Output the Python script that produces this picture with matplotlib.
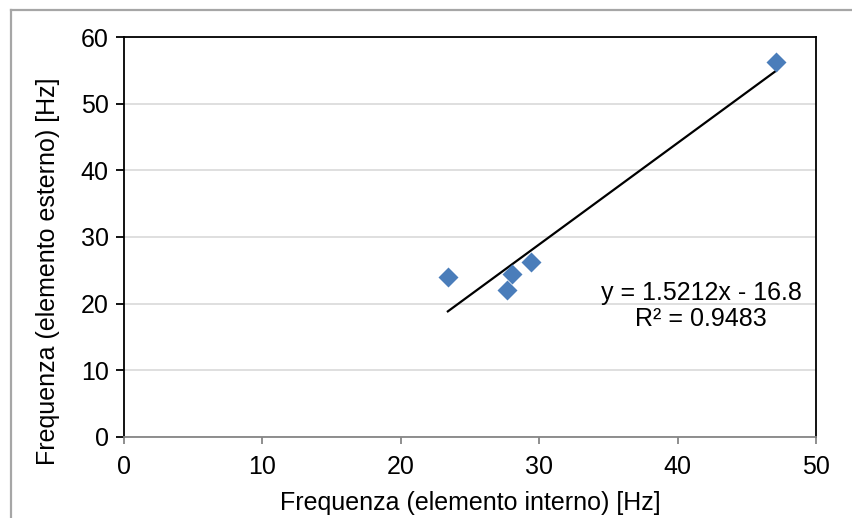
import numpy as np
import matplotlib.pyplot as plt
from matplotlib.lines import Line2D

plt.rcParams['font.family'] = ['Liberation Sans', 'DejaVu Sans']

# dati
f_interno = [23.4, 27.65, 28.05, 29.4, 47.1]
f_esterno = [23.95, 22.05, 24.5, 26.2, 56.25]
eq_text = "y = 1.5212x - 16.8\nR² = 0.9483"
x_ticks = [0, 10, 20, 30, 40, 50]
y_ticks = [0, 10, 20, 30, 40, 50, 60]

fig = plt.figure(figsize=(8.53, 5.18), dpi=100)
ax = fig.add_axes([0.1454, 0.157, 0.8112, 0.771])

# cornice grigia esterna (solo sinistra e sopra visibili)
fig.add_artist(Line2D([11/853, 11/853], [0, 1 - 10/518], transform=fig.transFigure,
                      color='#a6a6a6', lw=1.6))
fig.add_artist(Line2D([11/853, 1], [1 - 10/518, 1 - 10/518], transform=fig.transFigure,
                      color='#a6a6a6', lw=1.6))

# retta di regressione
coef = np.polyfit(f_interno, f_esterno, 1)
xl = np.array([min(f_interno), max(f_interno)])
ax.plot(xl, np.polyval(coef, xl), color='black', lw=1.6, zorder=3)

ax.plot(f_interno, f_esterno, 'D', color='#4a7dba', ms=10, mec='none', zorder=4)

ax.set_xlim(0, 50)
ax.set_ylim(0, 60)
ax.set_xticks(x_ticks)
ax.set_yticks(y_ticks)
ax.yaxis.grid(True, color='#d9d9d9', lw=1.2)
ax.set_axisbelow(True)

for s in ['left', 'top', 'right']:
    ax.spines[s].set_color('black')
    ax.spines[s].set_linewidth(1.3)
ax.spines['bottom'].set_color('#868686')
ax.spines['bottom'].set_linewidth(1.3)

ax.tick_params(axis='y', direction='out', length=6, width=1.3, color='black',
               labelsize=18, pad=5)
ax.tick_params(axis='x', direction='out', length=5, width=1.3, color='#868686',
               labelsize=18, pad=8)

ax.set_xlabel('Frequenza (elemento interno) [Hz]', fontsize=18, labelpad=9)
ax.set_ylabel('Frequenza (elemento esterno) [Hz]', fontsize=18)
ax.yaxis.set_label_coords(-0.093, 0.415)

ax.text(41.7, 19.6, eq_text, ha='center', va='center', fontsize=18,
        linespacing=1.1)

fig.savefig('out.png', dpi=100)
